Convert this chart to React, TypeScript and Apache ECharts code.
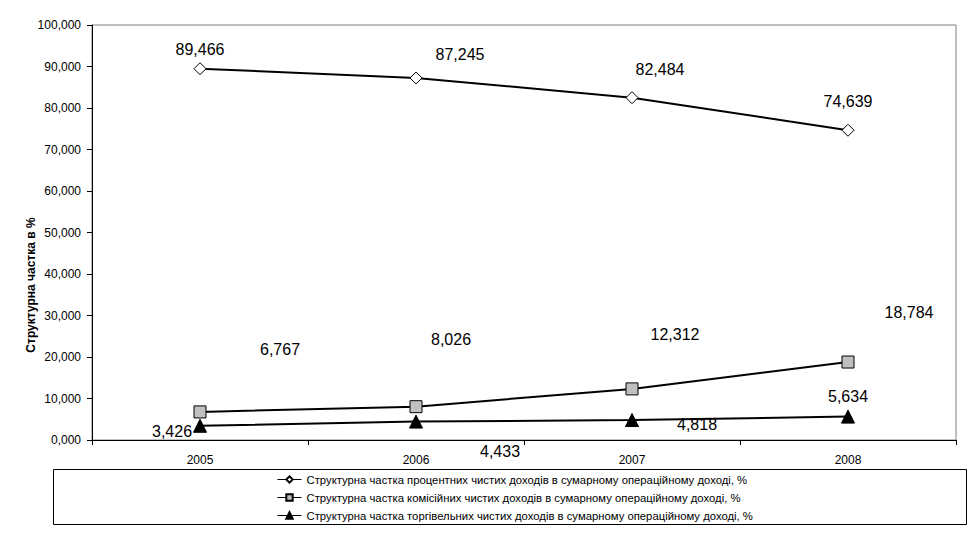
import React, { useEffect, useRef } from "react";
import * as echarts from "echarts";

const categories = ["2005", "2006", "2007", "2008"];
const seriesNames = [
  "Структурна частка процентних чистих доходів в сумарному операційному доході, %",
  "Структурна частка комісійних чистих доходів в сумарному операційному доході, %",
  "Структурна частка торгівельних чистих доходів в сумарному операційному доході, %",
];
const interestShare = [89.466, 87.245, 82.484, 74.639];
const commissionShare = [6.767, 8.026, 12.312, 18.784];
const tradingShare = [3.426, 4.433, 4.818, 5.634];
const yAxisTitle = "Структурна частка в %";

const fmt = (v: number) => v.toFixed(3).replace(".", ",");

export default function App() {
  const ref = useRef<HTMLDivElement>(null);
  useEffect(() => {
    if (!ref.current) return;
    const chart = echarts.init(ref.current, undefined, { renderer: "svg" });
    const font = "Liberation Sans, Arial, sans-serif";

    // label layout offsets (as placed in the original chart)
    const offs1 = [[0, -19], [44, -23], [28, -28], [0, -29]];
    const offs2 = [[80, -62], [35, -67], [43, -54], [61, -50]];
    const offs3 = [[-28, 6], [84, 30], [65, 4], [0, -20]];

    const mk = (vals: number[], offs: number[][]) =>
      vals.map((v, i) => ({
        value: v,
        label: { offset: offs[i] },
      }));

    const labelBase = {
      show: true,
      position: "inside" as const,
      fontSize: 16,
      fontFamily: font,
      color: "#000",
      formatter: (p: any) => fmt(p.value),
    };

    chart.setOption({
      animation: false,
      grid: {
        left: 92,
        right: 23,
        top: 25,
        bottom: 115,
        show: true,
        borderColor: "#808080",
        borderWidth: 1,
      },
      xAxis: {
        type: "category",
        data: categories,
        boundaryGap: true,
        axisLine: { lineStyle: { color: "#000", width: 1 } },
        axisTick: { show: true, length: 5, lineStyle: { color: "#000" } },
        axisLabel: { color: "#000", fontSize: 12, fontFamily: font, margin: 14 },
      },
      yAxis: {
        type: "value",
        min: 0,
        max: 100,
        interval: 10,
        axisLine: { show: true, lineStyle: { color: "#000", width: 1 } },
        axisTick: { show: true, length: 5, lineStyle: { color: "#000" } },
        splitLine: { show: false },
        axisLabel: {
          color: "#000",
          fontSize: 12,
          fontFamily: font,
          margin: 11,
          formatter: (v: number) => fmt(v),
        },
      },
      legend: {
        orient: "vertical",
        left: 272,
        top: 469,
        itemGap: 7,
        itemWidth: 24,
        itemHeight: 8,
        lineStyle: { width: 1 },
        textStyle: { fontSize: 11.3, fontFamily: font, color: "#000" },
        data: seriesNames,
      },
      graphic: [
        {
          type: "rect",
          shape: { x: 53.5, y: 469.5, width: 913, height: 55 },
          style: { fill: "none", stroke: "#000", lineWidth: 1 },
          z: -1,
        },
        {
          type: "text",
          x: 31,
          y: 285,
          rotation: Math.PI / 2,
          style: {
            text: yAxisTitle,
            fontSize: 12,
            fontWeight: "bold",
            fontFamily: font,
            fill: "#000",
            textAlign: "center",
            textVerticalAlign: "middle",
          },
        },
      ],
      series: [
        {
          name: seriesNames[0],
          type: "line",
          data: mk(interestShare, offs1),
          symbol: "diamond",
          symbolSize: 12,
          itemStyle: { color: "#fff", borderColor: "#000", borderWidth: 1 },
          lineStyle: { color: "#000", width: 2 },
          label: labelBase,
          z: 3,
        },
        {
          name: seriesNames[1],
          type: "line",
          data: mk(commissionShare, offs2),
          symbol: "rect",
          symbolSize: 12,
          itemStyle: { color: "#c0c0c0", borderColor: "#000", borderWidth: 1 },
          lineStyle: { color: "#000", width: 2 },
          label: labelBase,
          z: 3,
        },
        {
          name: seriesNames[2],
          type: "line",
          data: mk(tradingShare, offs3),
          symbol: "triangle",
          symbolSize: 13,
          itemStyle: { color: "#000", borderColor: "#000", borderWidth: 1 },
          lineStyle: { color: "#000", width: 2 },
          label: labelBase,
          z: 3,
        },
      ],
    });
    return () => chart.dispose();
  }, []);
  return (
    <div
      ref={ref}
      style={{ position: "absolute", left: 0, top: 0, width: 979, height: 555 }}
    />
  );
}
